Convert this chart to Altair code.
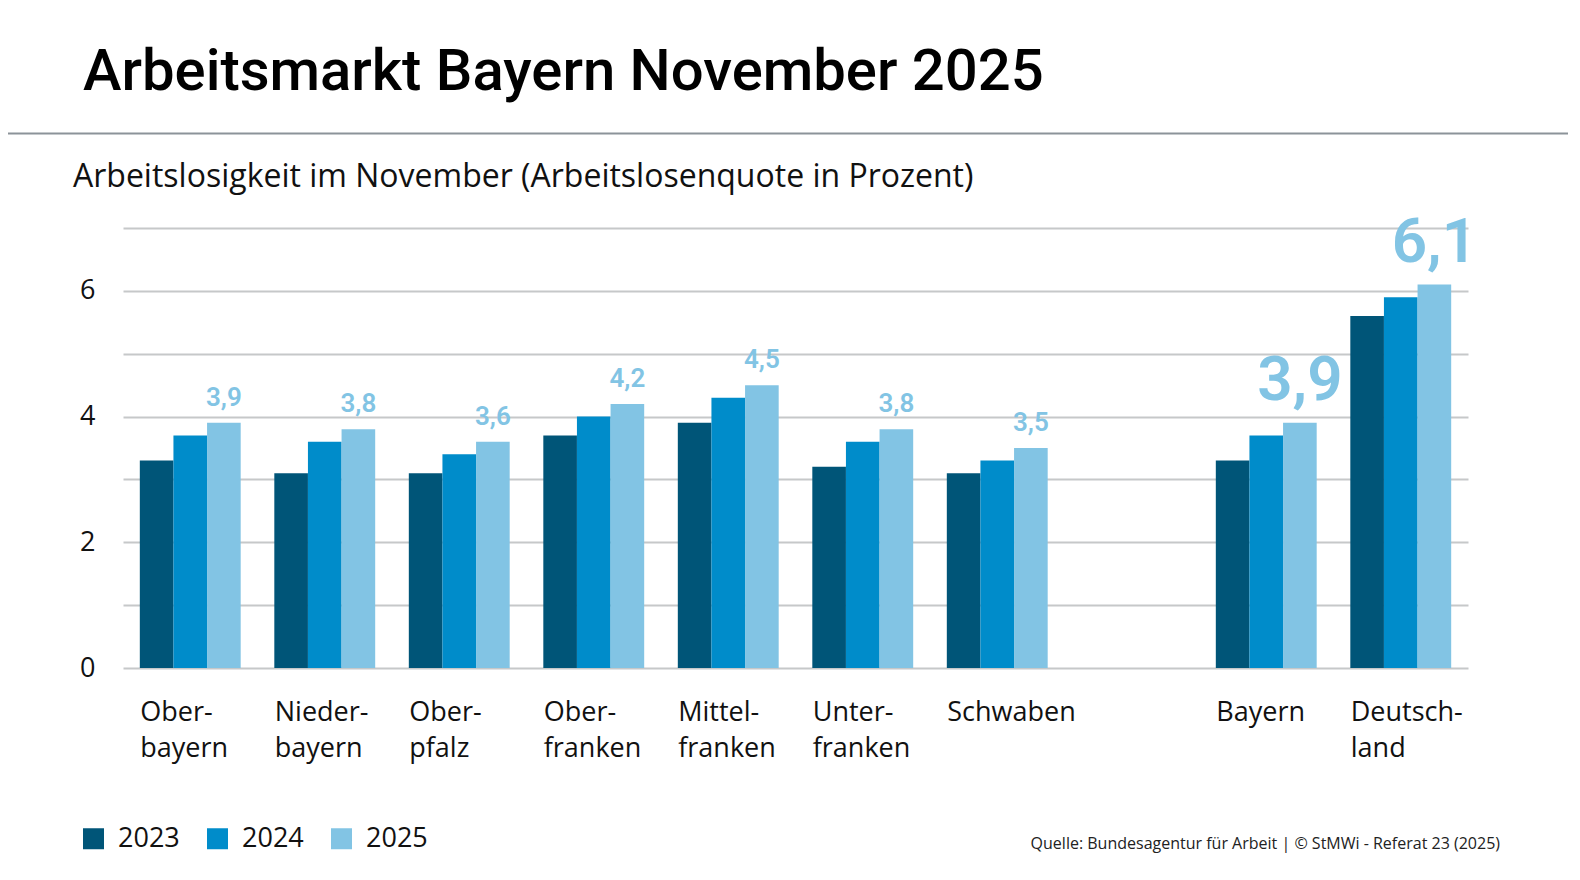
import altair as alt
import pandas as pd

# ---- data ----
regions = ["Ober-|bayern", "Nieder-|bayern", "Ober-|pfalz", "Ober-|franken",
           "Mittel-|franken", "Unter-|franken", "Schwaben", " ", "Bayern", "Deutsch-|land"]
years = ["2023", "2024", "2025"]
v2023 = [3.3, 3.1, 3.1, 3.7, 3.9, 3.2, 3.1, None, 3.3, 5.6]
v2024 = [3.7, 3.6, 3.4, 4.0, 4.3, 3.6, 3.3, None, 3.7, 5.9]
v2025 = [3.9, 3.8, 3.6, 4.2, 4.5, 3.8, 3.5, None, 3.9, 6.1]
totals = ["Bayern", "Deutsch-|land"]
colors = ["#005578", "#008cca", "#82c4e4"]

title_text = "Arbeitsmarkt Bayern November 2025"
subtitle_text = "Arbeitslosigkeit im November (Arbeitslosenquote in Prozent)"
source_text = "Quelle: Bundesagentur für Arbeit | © StMWi - Referat 23 (2025)"

rows = []
for i, r in enumerate(regions):
    for y, vals in zip(years, [v2023, v2024, v2025]):
        if vals[i] is not None:
            rows.append({"region": r, "year": y, "value": vals[i],
                         "total": r in totals})
df = pd.DataFrame(rows)

FONT = "Roboto"
TFONT = "Open Sans"
W, H = 1345, 440

x_enc = alt.X("region:N", sort=regions,
              scale=alt.Scale(domain=regions, paddingInner=0.25, paddingOuter=0.125),
              axis=alt.Axis(title=None, domain=False, ticks=False, grid=False,
                            labelExpr="split(datum.value, '|')",
                            labelAlign="left", labelBaseline="top",
                            labelOffset=-50, labelPadding=31,
                            labelFontSize=27, labelLineHeight=36,
                            labelColor="#111111", labelFont=TFONT,
                            labelOverlap=False, labelFlush=False, labelLimit=0,
                            labelAngle=0))
y_enc = alt.Y("value:Q", scale=alt.Scale(domain=[0, 7], nice=False),
              axis=alt.Axis(title=None, domain=False, ticks=False,
                            values=[0, 1, 2, 3, 4, 5, 6, 7],
                            labelExpr="datum.value % 2 == 0 && datum.value < 7 ? format(datum.value, 'd') : ''",
                            labelFontSize=27, labelPadding=28, labelColor="#111111",
                            labelFont=TFONT, gridColor="#c6c8c9", gridWidth=2))
xo = alt.XOffset("year:N", sort=years)

bars = alt.Chart(df).mark_bar().encode(
    x=x_enc, y=y_enc, xOffset=xo,
    color=alt.Color("year:N", sort=years,
                    scale=alt.Scale(domain=years, range=colors),
                    legend=alt.Legend(title=None, orient="none", direction="horizontal",
                                      legendX=-43, legendY=597,
                                      symbolType="square", symbolSize=441,
                                      symbolStrokeWidth=0, symbolOpacity=1,
                                      labelFontSize=27, labelFont=TFONT,
                                      labelColor="#111111", labelOffset=11,
                                      columnPadding=24, padding=0)),
)

lab_base = alt.Chart(df).transform_filter("datum.year == '2025'").transform_calculate(
    lbl="replace(format(datum.value, '.1f'), '.', ',')")

small = lab_base.transform_filter("!datum.total").mark_text(
    font=FONT, fontSize=26, fontWeight=600, color="#82c4e4",
    baseline="alphabetic", dy=-17).encode(x=alt.X("region:N", sort=regions), y="value:Q",
                                          xOffset=xo, text="lbl:N")
big = lab_base.transform_filter("datum.total").mark_text(
    font=FONT, fontSize=62, fontWeight=600, color="#82c4e4",
    baseline="alphabetic", dy=-23).encode(x=alt.X("region:N", sort=regions), y="value:Q",
                                          xOffset=xo, text="lbl:N")

title = alt.Chart(pd.DataFrame({"t": [title_text]})).mark_text(
    font=FONT, fontSize=58, fontWeight=500, color="#000000", align="left",
    baseline="alphabetic").encode(x=alt.value(-40), y=alt.value(-138), text="t:N")
subtitle = alt.Chart(pd.DataFrame({"t": [subtitle_text]})).mark_text(
    font=TFONT, fontSize=32, fontWeight=400, color="#111111", align="left",
    baseline="alphabetic").encode(x=alt.value(-50), y=alt.value(-41), text="t:N")
source = alt.Chart(pd.DataFrame({"t": [source_text]})).mark_text(
    font=TFONT, fontSize=16, color="#222222", align="right",
    baseline="alphabetic").encode(x=alt.value(1377), y=alt.value(621), text="t:N")
sep = alt.Chart(pd.DataFrame({"a": [0]})).mark_rule(color="#8c9399", strokeWidth=2).encode(
    x=alt.value(-115), x2=alt.value(W + 100), y=alt.value(-94.5))

chart = alt.layer(sep, title, subtitle, bars, small, big, source).properties(
    width=W, height=H,
    autosize=alt.AutoSizeParams(type="none"),
    padding={"left": 115, "top": 220, "right": 100, "bottom": 200},
).configure_view(stroke=None).configure_axis(gridColor="#c6c8c9")

chart.save("out.html", embed_options={"renderer": "svg", "actions": False})
